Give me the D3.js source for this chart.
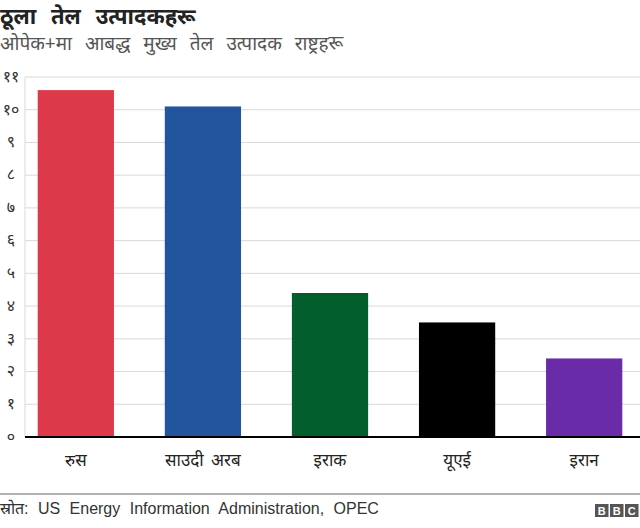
<!DOCTYPE html>
<html>
<head>
<meta charset="utf-8">
<script src="https://cdn.jsdelivr.net/npm/d3@7"></script>
<style>
  body { margin: 0; background: #fff; }
  svg { display: block; font-family: "Noto Sans", "Liberation Sans", Arial, sans-serif; }
</style>
</head>
<body>
<div id="chart"></div>
<script>
'use strict';

var countries = ['रुस', 'साउदी अरब', 'इराक', 'यूएई', 'इरान'];
var production = [10.6, 10.1, 4.4, 3.5, 2.4];
var barColours = ['#dc3a4b', '#23559f', '#035e2d', '#000000', '#6a2ba8'];
var yTicks = [0, 1, 2, 3, 4, 5, 6, 7, 8, 9, 10, 11];

var width = 640, height = 528;
var margin = {top: 77, right: 5, bottom: 91, left: 25};

var devDigits = '०१२३४५६७८९';
function toDev(n) {
  return String(n).replace(/\d/g, function(c) { return devDigits[c]; });
}

var svg = d3.select('#chart').append('svg')
    .attr('width', width)
    .attr('height', height);

var x = d3.scaleBand()
    .domain(countries)
    .range([margin.left, width - margin.right])
    .paddingInner(0.4)
    .paddingOuter(0.1);

var y = d3.scaleLinear()
    .domain([0, 11])
    .range([height - margin.bottom, margin.top]);

// gridlines
svg.append('g')
    .selectAll('line')
    .data(yTicks.slice(1))
  .enter().append('line')
    .attr('x1', margin.left)
    .attr('x2', width)
    .attr('y1', function(d) { return y(d); })
    .attr('y2', function(d) { return y(d); })
    .attr('stroke', '#d9d9d9')
    .attr('stroke-width', 1);

svg.append('line')
    .attr('x1', margin.left).attr('x2', margin.left)
    .attr('y1', y(11)).attr('y2', y(0))
    .attr('stroke', '#d9d9d9');

// y tick labels
svg.append('g')
    .selectAll('text')
    .data(yTicks)
  .enter().append('text')
    .attr('x', 11)
    .attr('y', function(d) { return y(d); })
    .attr('dy', '0.3em')
    .attr('text-anchor', 'middle')
    .attr('font-size', 16)
    .attr('fill', '#333')
    .text(toDev);

// bars
svg.append('g')
    .selectAll('rect')
    .data(production)
  .enter().append('rect')
    .attr('x', function(d, i) { return x(countries[i]); })
    .attr('y', function(d) { return y(d); })
    .attr('width', x.bandwidth())
    .attr('height', function(d) { return y(0) - y(d); })
    .attr('fill', function(d, i) { return barColours[i]; });

// baseline
svg.append('line')
    .attr('x1', margin.left).attr('x2', width)
    .attr('y1', y(0)).attr('y2', y(0))
    .attr('stroke', '#000')
    .attr('stroke-width', 2);

// category labels
svg.append('g')
    .selectAll('text')
    .data(countries)
  .enter().append('text')
    .attr('x', function(d) { return x(d) + x.bandwidth() / 2; })
    .attr('y', 466)
    .attr('text-anchor', 'middle')
    .attr('font-size', 17)
    .attr('word-spacing', 3)
    .attr('fill', '#222')
    .text(function(d) { return d; });

// titles
svg.append('text')
    .attr('x', 0).attr('y', 24)
    .attr('font-size', 22)
    .attr('font-weight', 'bold')
    .attr('word-spacing', 9)
    .attr('fill', '#222')
    .text('ठूला तेल उत्पादकहरू');

svg.append('text')
    .attr('x', 0).attr('y', 50)
    .attr('font-size', 19)
    .attr('word-spacing', 8)
    .attr('fill', '#555')
    .text('ओपेक+मा आबद्ध मुख्य तेल उत्पादक राष्ट्रहरू');

// footer
svg.append('line')
    .attr('x1', 0).attr('x2', width)
    .attr('y1', 494).attr('y2', 494)
    .attr('stroke', '#999')
    .attr('stroke-width', 1.5);

svg.append('text')
    .attr('x', 0).attr('y', 514)
    .attr('font-size', 16)
    .attr('word-spacing', 5)
    .attr('fill', '#333')
    .attr('font-family', '"Liberation Sans", Arial, sans-serif')
    .text('स्रोत: US Energy Information Administration, OPEC');

var logo = svg.append('g').attr('transform', 'translate(595,504)');
['B', 'B', 'C'].forEach(function(l, i) {
  logo.append('rect')
      .attr('x', i * 15).attr('y', 0)
      .attr('width', 13.5).attr('height', 13)
      .attr('fill', '#555');
  logo.append('text')
      .attr('x', i * 15 + 6.75).attr('y', 11)
      .attr('text-anchor', 'middle')
      .attr('font-size', 11)
      .attr('font-weight', 'bold')
      .attr('font-family', '"Liberation Sans", Arial, sans-serif')
      .attr('fill', '#fff')
      .text(l);
});
</script>
</body>
</html>
